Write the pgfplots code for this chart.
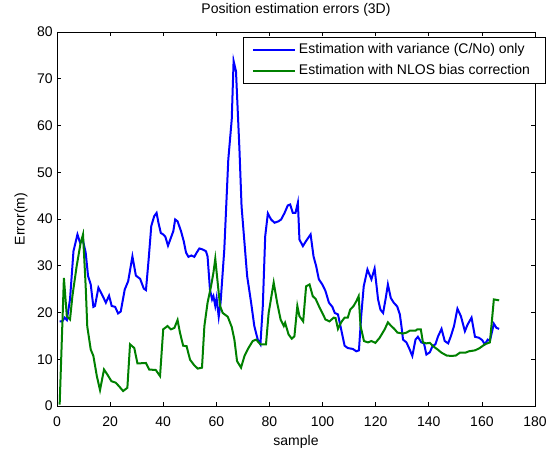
\documentclass[border=0pt]{standalone}
\usepackage{fontspec}
\setmainfont{Liberation Sans}
\usepackage{pgfplots}
\pgfplotsset{compat=1.18}
\definecolor{mblue}{RGB}{0,0,255}
\definecolor{mgreen}{RGB}{0,128,0}
\begin{document}
\fontsize{14pt}{16.5pt}\selectfont
\begin{tikzpicture}
\begin{axis}[
  at={(57pt,43pt)}, anchor=south west,
  width=478pt, height=374pt, scale only axis,
  xmin=0, xmax=180, ymin=0, ymax=80,
  xtick={0,20,...,180}, ytick={0,10,...,80},
  tick align=inside, major tick length=4pt,
  tick style={black, line width=0.6pt},
  axis line style={black, line width=0.8pt},
  /pgf/number format/assume math mode=true,
  xticklabel style={yshift=-5.5pt},
  yticklabel style={xshift=0.5pt},
  title={Position estimation errors (3D)},
  title style={at={(axis description cs:0.5,1)}, anchor=center, yshift=16pt},
  xlabel={sample},
  xlabel style={at={(axis description cs:0.5,0)}, anchor=center, yshift=-35.5pt},
  ylabel={Error(m)},
  ylabel style={at={(axis description cs:-0.0753,0.5)}, anchor=center},
  legend cell align=left,
  legend image code/.code={\draw[#1] (0pt,0pt) -- (42pt,0pt);},
  legend style={at={(axis description cs:1.023,0.987)}, anchor=north east,
    draw=black, line width=0.8pt, inner xsep=9pt, inner ysep=2pt,
    nodes={inner ysep=4.3pt, inner xsep=3pt}, row sep=0pt},
]
\addplot[mblue, line width=2pt] coordinates {
(1,18.1)(2,18.1)(2.9,18.9)(3.7,18.4)(4.9,22.8)(6.2,33.1)(7.7,36.7)(8.7,34.9)(9.7,35.6)(10.8,32.8)
(11.7,27.8)(12.7,26)(13.7,21.2)(14.3,21.4)(15.6,25.3)(16.9,23.9)(18.4,22.1)(19.6,23.6)(20.6,21.4)(21.9,21.2)
(23,19.8)(24,20.2)(25.5,24.9)(26.8,26.7)(28.4,32)(29.7,27.9)(31.3,27.2)(32.7,25.1)(33.5,24.8)(34.5,31.3)
(35.5,38.5)(36.6,40.6)(37.5,41.3)(38.2,39.2)(39.1,37)(40,36.7)(40.8,36.2)(41.8,34.3)(42.9,36)(43.8,37.4)
(44.5,39.9)(45.4,39.5)(46.7,37.4)(47.7,35.3)(48.6,32.8)(49.5,31.9)(50.6,32.2)(51.7,31.9)(52.6,32.8)(53.6,33.7)
(54.8,33.5)(56.1,33.1)(56.7,32)(57.6,24.9)(58.4,22.8)(58.9,23.5)(59.6,21.4)(60.1,23.1)(60.9,19.1)(61.6,22.1)
(63,33.5)(64.5,52.7)(65.8,61.3)(66.5,73.8)(67.4,71.6)(68.7,54.9)(69.5,42.7)(71.6,27.8)(73.1,22.1)(74.3,17.1)
(75.6,14.2)(76.6,13.2)(77.5,21.4)(78.4,36.3)(79.4,41.2)(80.6,39.9)(81.9,39.2)(83.4,39.5)(84.4,39.9)(85.7,41.3)
(86.9,42.9)(87.8,43.1)(88.8,41.3)(89.8,41.3)(90.7,43.5)(91.3,35.6)(92.6,34.2)(93.8,35.3)(95.5,36.7)(96.6,32)
(97.6,29.9)(98.6,27.1)(99.9,26)(101.1,24.6)(102.4,22.1)(103.7,21.2)(104.6,19.9)(105.8,19.6)(107,16.4)(108.3,12.9)
(109.5,12.4)(111.4,12.2)(112.7,11.7)(113.7,11.9)(114.6,19.6)(115.5,25.6)(116.9,29.2)(118.4,27.1)(119.6,29.4)(120.9,22.8)
(121.8,20.6)(122.8,19.9)(123.8,23.1)(124.6,26)(125.7,23.1)(126.8,22.1)(128.1,21.3)(129.1,19.6)(129.7,17.1)(130.3,14.2)
(131.6,13.6)(132.8,12.1)(133.8,10.7)(135,14.2)(135.9,14.8)(137.2,13.6)(138.2,13.4)(139.1,11.0)(140.4,11.5)(141.4,12.8)
(142.5,13.2)(143.5,14.9)(144.8,16.5)(146,13.9)(147.3,13.4)(148.3,14.9)(149.5,17.1)(150.8,20.8)(152.1,19.2)(153.6,16)
(154.6,17.4)(156.1,18.9)(157.4,14.8)(158.9,14.6)(160.1,14.1)(161.1,13.2)(162.2,14.2)(163,13.9)(164.5,17.6)(165.5,16.7)
(166.5,16.5)
};
\addlegendentry{Estimation with variance (C/No) only\hspace*{9pt}}
\addplot[mgreen, line width=2pt] coordinates {
(1,0.3)(2.6,27.4)(3.7,19.2)(4.9,18.5)(5.8,23.5)(7.4,29.9)(8.9,34.9)(9.8,36.7)(10.8,25.6)(11.4,17)
(12.7,12.1)(13.7,10.7)(15,6.4)(16.2,3.4)(17.7,7.8)(19,6.7)(20.5,5.3)(22.1,5.0)(23.4,4.2)(24.9,3.2)
(26.5,3.9)(27.5,13.2)(29.1,12.4)(30.3,9.1)(33.5,9.2)(34.7,7.8)(37.2,7.7)(38.8,6.4)(40,16.4)(41.6,17.1)
(42.9,16.4)(44.2,16.7)(45.4,18.4)(46.3,15.7)(47.5,12.9)(48.8,12.8)(50.1,9.9)(51.7,8.7)(53,8.0)(54.6,8.2)
(55.5,17.1)(56.7,22.1)(58,25.6)(58.9,28.5)(59.6,31.5)(60.5,26.4)(61.4,21.4)(62.4,19.9)(64.3,19.1)(65.8,16.9)
(66.8,14.2)(67.8,9.6)(69.3,8.2)(70.6,10.7)(72.1,12.4)(73.7,13.9)(75,14.2)(76.6,13.2)(78.7,13.2)(79.7,19.9)
(81.6,26.4)(82.9,22.1)(84.2,18.5)(85.4,17.1)(85.9,17.8)(87.2,15.3)(88.4,14.4)(89.4,14.9)(90.5,21.4)(91.3,19.2)
(92.7,18.1)(93.8,25.6)(95.1,26)(96.3,23.5)(97.4,22.9)(98.6,21.4)(99.9,19.9)(101.1,18.5)(102.6,18.1)(104.2,18.9)
(104.9,18.8)(105.8,16.5)(107,17.9)(108.3,18.9)(109.5,18.9)(110.4,20.6)(111.7,21.4)(112.7,22.4)(113.6,23.5)(114.3,17.1)
(115.6,13.9)(117.1,13.6)(118.4,13.9)(119.9,13.5)(121.5,14.6)(123.4,16.4)(124.6,17.9)(125.7,17.2)(127,16.5)(128.2,15.7)
(130.3,15.5)(131.6,15.7)(132.8,16.1)(135,16.1)(135.7,16.4)(137,16.4)(137.8,13.6)(139.1,13.4)(140.4,13.5)(141.6,12.8)
(143.3,12.1)(144.8,11.4)(146.7,10.8)(148.6,10.7)(150.2,10.8)(151.7,11.4)(153.8,11.4)(155.1,11.7)(157.4,11.9)(159.2,12.4)
(161.1,13.2)(163,13.6)(163.7,17.8)(164.5,22.8)(166.5,22.6)
};
\addlegendentry{Estimation with NLOS bias correction}
\end{axis}
\pgfresetboundingbox
\path[use as bounding box] (0pt,0pt) rectangle (553pt,449pt);
\end{tikzpicture}
\end{document}
